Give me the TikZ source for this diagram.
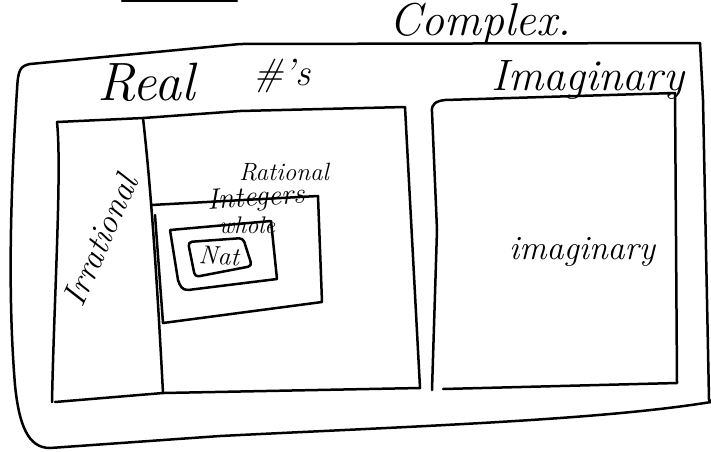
\documentclass[tikz,border=0pt]{standalone}
\begin{document}
\begin{tikzpicture}[x=1pt,y=-1pt,
  sketch/.style={line width=2.5pt, line cap=round, line join=round},
  lbl/.style={inner sep=0pt, anchor=center},
  hand/.style={font=\fontsize{#1}{#1}\selectfont\itshape}]
\useasboundingbox (0,0) rectangle (711,451);
% short stroke at top edge
\draw[sketch] (122,1) -- (237,1);
% labels
\node[lbl,hand=46] (complex) at (480,24) {Complex.};
\node[lbl,hand=54] (real) at (146,82) {Real};
\node[lbl,hand=38] (num) at (282,76) {\#'s};
\node[lbl,hand=44] (imaglbl) at (588,80) {Imaginary};
\node[lbl,hand=34,rotate=66] (irr) at (100,240) {Irrational};
\node[lbl,hand=25] (rat) at (284,172) {Rational};
\node[lbl,hand=29,rotate=4] (int) at (256,199) {Integers};
\node[lbl,hand=24] (whole) at (247,225) {whole};
\node[lbl,hand=26,rotate=-3] (nat) at (219,256) {Nat};
\node[lbl,hand=34] (imag) at (582,252) {imaginary};
% outer complex box
\draw[sketch] (30,64) -- (240,44) -- (700,43) -- (703,100) -- (709,400) -- (711,401);
\draw[sketch] (711,402) .. controls (600,420) and (420,426) .. (220,436)
  -- (50,448) .. controls (28,448) and (19,425) .. (15,385)
  .. controls (8,300) and (10,200) .. (17,90) .. controls (18,70) and (20,66) .. (30,64);
% real box
\draw[sketch] (57,122) -- (143,118) -- (240,111) -- (405,107) -- (420,388) -- (163,393) -- (55,402);
\draw[sketch] (57,122) .. controls (62,170) and (54,300) .. (52,402);
\draw[sketch] (143,118) .. controls (150,180) and (156,260) .. (163,393);
% rational box
\draw[sketch] (151,205) -- (318,196) -- (322,302) -- (163,323) -- (155,215);
% whole box
\draw[sketch] (170,230) -- (271,221) -- (277,279) -- (188,290) .. controls (182,290) and (180,286) .. (178,280) -- (170,230);
% nat box
\draw[sketch, rounded corners=4pt] (188,242) -- (243,238) -- (252,266) -- (195,277) -- cycle;
% imaginary box
\draw[sketch] (432,390) -- (437,230) -- (432,112) .. controls (431,104) and (436,101) .. (445,100) -- (675,93) -- (677,383) -- (443,389);
\end{tikzpicture}
\end{document}
